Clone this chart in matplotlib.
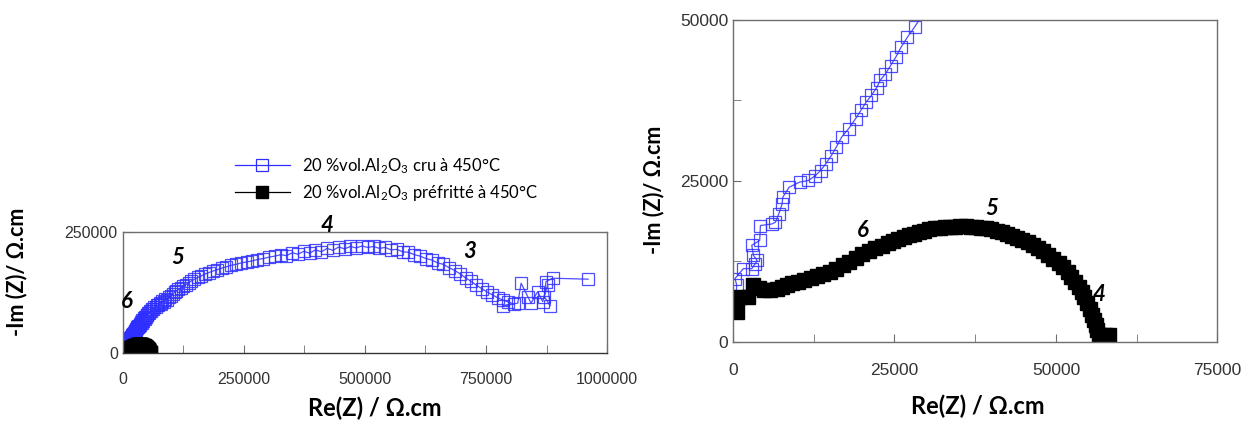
import matplotlib
matplotlib.use("Agg")
import matplotlib.pyplot as plt
from matplotlib.ticker import MultipleLocator, FixedLocator, StrMethodFormatter

plt.rcParams['font.family'] = ['Lato', 'DejaVu Sans']
plt.rcParams['mathtext.fontset'] = 'custom'
plt.rcParams['mathtext.rm'] = 'Lato'

# 20 %vol.Al2O3 cru à 450°C  (open blue squares)
cru_re = [310, 570, 310, 1600, 2900, 3460, 3730, 3150, 2900, 4130, 4240, 6000, 6570, 7080,
          7600, 7700, 8680, 10300, 11660, 12740, 13560, 14370, 15200, 16000, 16820, 17900,
          18980, 19800, 20600, 21420, 22230, 22780, 23590, 24400, 25200, 26030, 27000, 28100,
          29500, 30500, 31500, 32500, 34000, 35000, 36500, 38000, 39000, 40500, 42000, 43500,
          45000, 46500, 48000, 49500, 51000, 53000, 55000, 57000, 59000, 61000, 63000, 65000,
          68000, 70000, 73000, 76000, 79000, 82000, 85000, 88000, 91000, 95000, 99000, 103000,
          107000, 111000, 115000, 120000, 125000, 130000, 136000, 142000, 148000, 155000,
          162000, 170000, 178000, 186000, 195000, 204000, 214000, 224000, 234000, 245000,
          256000, 267000, 278000, 290000, 302000, 314000, 326000, 338000, 350000, 362000,
          374000, 386000, 398000, 410000, 422000, 434000, 446000, 458000, 470000, 482000,
          494000, 506000, 518000, 530000, 542000, 554000, 566000, 578000, 590000, 602000,
          614000, 626000, 638000, 650000, 662000, 674000, 686000, 697000, 708000, 719000,
          730000, 741000, 752000, 763000, 774000, 785000, 796000, 807000, 784900, 815600,
          822500, 836200, 843000, 856700, 867000, 877200, 882700, 870400, 873800, 887500,
          960800]
cru_im = [4680, 8800, 9830, 11370, 11370, 12140, 12650, 13430, 15000, 15740, 18060, 18300,
          18570, 19860, 21400, 22450, 24000, 24800, 25050, 25800, 26600, 27650, 28900, 30250,
          31800, 33100, 34650, 35950, 37200, 38250, 39450, 40600, 41600, 42900, 44200, 45760,
          47300, 48860, 51000, 53500, 52500, 56000, 55000, 60000, 58500, 63500, 62000, 67000,
          66000, 71000, 70000, 75000, 74000, 79000, 78000, 83000, 82000, 87000, 86000, 91000,
          90000, 95000, 94000, 99000, 98000, 103000, 102000, 107000, 106000, 111000, 110000,
          115000, 117000, 121000, 125000, 128000, 131000, 134000, 138000, 141000, 145000,
          149000, 152000, 156000, 159000, 163000, 166000, 169000, 172000, 175000, 178000,
          181000, 183000, 186000, 188000, 190000, 193000, 195000, 198000, 200000, 203000,
          201000, 207000, 204000, 210000, 206000, 213000, 209000, 216000, 212000, 219000,
          215000, 220000, 217000, 221000, 218000, 220000, 216000, 218000, 213000, 214000,
          209000, 208000, 203000, 200000, 195000, 192000, 186000, 183000, 176000, 170000,
          163000, 155000, 148000, 140000, 133000, 126000, 120000, 114000, 109000, 105000,
          101000, 97100, 102700, 144000, 116300, 102700, 126700, 106000, 140500, 97100,
          116300, 147300, 154300, 152300]

# 20 %vol.Al2O3 préfritté à 450°C  (filled black squares)
pre_re = [570, 310, 1090, 2380, 3150, 4000, 4750, 5800, 6800, 7600, 8400, 9200, 10000, 11000,
          12000, 13000, 14000, 15000, 16000, 17000, 18000, 19000, 20000, 21000, 22000, 23000,
          24000, 24800, 25600, 26400, 27200, 28000, 28800, 29600, 30400, 31200, 32000, 32800,
          33600, 34400, 35200, 36000, 36800, 37600, 38400, 39200, 40000, 40800, 41600, 42400,
          43200, 44000, 44800, 45600, 46400, 47200, 48000, 48800, 49600, 50400, 51100, 51800,
          52400, 53000, 53500, 54000, 54400, 54800, 55200, 55600, 55900, 56200, 56400, 56600,
          57000, 57600, 58200]
pre_im = [4680, 6150, 7000, 7000, 8800, 8300, 8000, 8000, 8200, 8500, 8800, 9100, 9350, 9600,
          9900, 10200, 10500, 10900, 11350, 11900, 12450, 13050, 13600, 14100, 14500, 14900,
          15300, 15650, 15950, 16250, 16550, 16800, 17050, 17250, 17450, 17600, 17700, 17800,
          17850, 17900, 17950, 17950, 17900, 17850, 17750, 17600, 17450, 17250, 17050, 16800,
          16500, 16200, 15850, 15450, 15050, 14600, 14100, 13500, 12900, 12250, 11550, 10800,
          10050, 9300, 8500, 7700, 6900, 6000, 5100, 4200, 3400, 2600, 1800, 1100,
          900, 1000, 1100]

cru_label = "20 %vol.Al$\\mathregular{_2}$O$\\mathregular{_3}$ cru à 450°C"
pre_label = "20 %vol.Al$\\mathregular{_2}$O$\\mathregular{_3}$ préfritté à 450°C"

left_notes = [("6", 8200, 106000), ("5", 113500, 198000), ("4", 421000, 264000), ("3", 717000, 208700)]
right_notes = [("6", 20030, 17300), ("5", 40060, 20700), ("4", 56600, 7400)]

blue = '#2f2fff'
fig = plt.figure(figsize=(12.42, 4.21), dpi=100)
ax1 = fig.add_axes([0.0988, 0.162, 0.390, 0.287])
ax2 = fig.add_axes([0.5902, 0.188, 0.390, 0.765])


def draw(ax, ms_b, ms_k):
    ax.plot(cru_re, cru_im, color=blue, lw=0.9, marker='s', ms=ms_b, mfc='none',
            mec=blue, mew=0.9, alpha=0.85, label=cru_label)
    ax.plot(pre_re, pre_im, color='black', lw=0.9, marker='s', ms=ms_k, mfc='black',
            mec='black', label=pre_label)
    for s in ax.spines.values():
        s.set_color('#6e6e6e')
        s.set_linewidth(1.0)
    ax.xaxis.set_major_formatter(StrMethodFormatter('{x:.0f}'))
    ax.yaxis.set_major_formatter(StrMethodFormatter('{x:.0f}'))
    ax.tick_params(which='both', direction='in', colors='#6e6e6e', labelcolor='#333333',
                   length=6)


draw(ax1, 8, 8)
ax1.set_xlim(0, 1000000)
ax1.set_ylim(0, 250000)
ax1.xaxis.set_major_locator(MultipleLocator(250000))
ax1.xaxis.set_minor_locator(MultipleLocator(125000))
ax1.yaxis.set_major_locator(FixedLocator([0, 250000]))
ax1.tick_params(axis='x', pad=14)
ax1.spines['bottom'].set_color('#333333')
for t in ax1.get_xticklabels() + ax1.get_yticklabels():
    t.set_family('Liberation Sans')
    t.set_fontsize(11.5)

draw(ax2, 8, 9.5)
ax2.set_xlim(0, 75000)
ax2.set_ylim(0, 50000)
ax2.xaxis.set_major_locator(MultipleLocator(25000))
ax2.xaxis.set_minor_locator(MultipleLocator(12500))
ax2.yaxis.set_major_locator(MultipleLocator(25000))
ax2.yaxis.set_minor_locator(MultipleLocator(12500))
ax2.tick_params(axis='x', pad=15)
for t in ax2.get_xticklabels() + ax2.get_yticklabels():
    t.set_family('Liberation Sans')
    t.set_fontsize(12.5)

for txt, x, y in left_notes:
    ax1.text(x, y, txt, fontsize=16, fontweight='bold', fontstyle='italic',
             ha='center', va='center', clip_on=False)
for txt, x, y in right_notes:
    ax2.text(x, y, txt, fontsize=16, fontweight='bold', fontstyle='italic',
             ha='center', va='center')

fig.text(0.013, 0.354, "-Im (Z)/ Ω.cm", rotation=90, fontsize=15.5, fontweight='bold',
         ha='center', va='center')
fig.text(0.526, 0.549, "-Im (Z)/ Ω.cm", rotation=90, fontsize=15.5, fontweight='bold',
         ha='center', va='center')
fig.text(0.302, 0.031, "Re(Z) / Ω.cm", fontsize=17, fontweight='bold', ha='center', va='center')
fig.text(0.787, 0.036, "Re(Z) / Ω.cm", fontsize=17, fontweight='bold', ha='center', va='center')

h, l = ax1.get_legend_handles_labels()
leg = fig.legend(h, l, loc='upper left', bbox_to_anchor=(0.177, 0.665), frameon=False,
                 fontsize=12, handlelength=3.3, handletextpad=0.7, labelspacing=0.45,
                 markerscale=1.15)
for hd in leg.legend_handles:
    hd.set_alpha(1)

fig.savefig("out.png", dpi=100)
